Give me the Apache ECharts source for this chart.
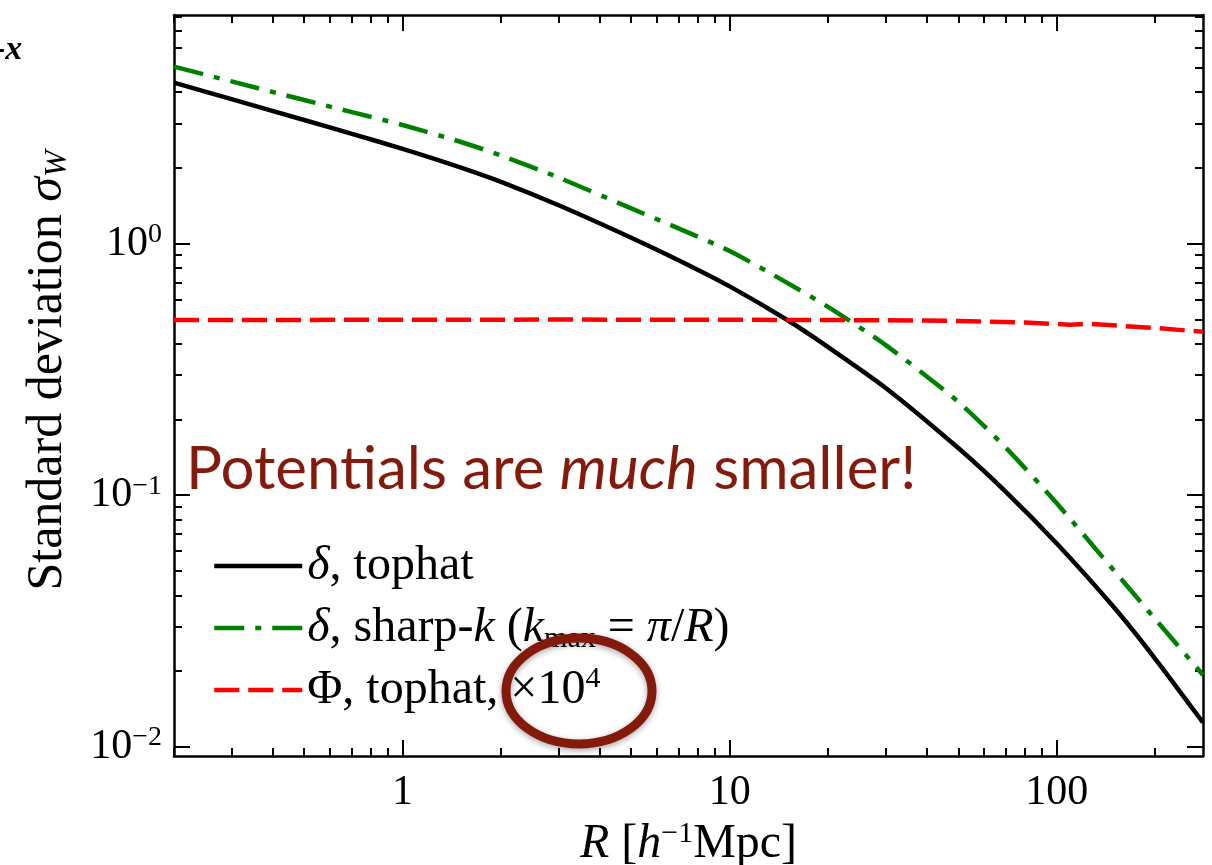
<!DOCTYPE html>
<html>
<head>
<meta charset="utf-8">
<script src="https://cdn.jsdelivr.net/npm/echarts@6/dist/echarts.min.js"></script>
<style>
  html, body { margin: 0; padding: 0; background: #fff; }
  #main { width: 1212px; height: 865px; }
</style>
</head>
<body>
<div id="main"></div>
<script>
// smoothing radius R [h^-1 Mpc] and sigma_W
var rGrid       = [0.2, 0.3, 0.5, 0.7, 1, 1.5, 2, 3, 5, 7, 10, 15, 20, 30, 50, 70, 100, 150, 200, 280];
var sigTophat   = [4.36, 3.75, 3.10, 2.73, 2.38, 2.01, 1.76, 1.42, 1.055, 0.857, 0.676, 0.497, 0.388, 0.267, 0.154, 0.103, 0.0643, 0.0357, 0.0224, 0.0125];
var sigSharpK   = [5.05, 4.41, 3.72, 3.33, 2.96, 2.54, 2.24, 1.83, 1.38, 1.147, 0.934, 0.698, 0.56, 0.395, 0.235, 0.154, 0.0929, 0.050, 0.0322, 0.0193];
var rPhi        = [0.2, 1, 3, 10, 30, 50, 80, 110, 125, 200, 280];
var sigPhi      = [0.497, 0.498, 0.499, 0.498, 0.496, 0.493, 0.486, 0.476, 0.48, 0.462, 0.446];

var xMajor = [1, 10, 100];
var xMinor = [0.2, 0.3, 0.4, 0.5, 0.6, 0.7, 0.8, 0.9, 2, 3, 4, 5, 6, 7, 8, 9, 20, 30, 40, 50, 60, 70, 80, 90, 200];
var yMajor = [0.01, 0.1, 1];
var yMinor = [0.02, 0.03, 0.04, 0.05, 0.06, 0.07, 0.08, 0.09, 0.2, 0.3, 0.4, 0.5, 0.6, 0.7, 0.8, 0.9, 2, 3, 4, 5, 6, 7, 8];

var X_MIN = 0.2, X_MAX = 280, Y_MIN = 0.0092, Y_MAX = 8.1;
var SERIF = '"Liberation Serif", "DejaVu Serif", serif';
var lg = Math.log10;

var zip = function(xs, ys) {
  return xs.map(function(x, i) { return [x, ys[i]]; });
};

// tick-only helper axis, laid out in log10 space over the same range
var tickAxis = function(isX, pos, vals, len, showLine) {
  return {
    type: 'value',
    position: pos,
    min: lg(isX ? X_MIN : Y_MIN),
    max: lg(isX ? X_MAX : Y_MAX),
    silent: true,
    axisLine: { show: showLine, onZero: false, lineStyle: { color: '#000', width: 2.5 } },
    axisTick: {
      show: true, inside: true, length: len,
      customValues: vals.map(lg),
      lineStyle: { color: '#000', width: 2 }
    },
    axisLabel: { show: false },
    splitLine: { show: false }
  };
};

var powLabel = function(v) {
  var e = lg(v), r = Math.round(e);
  if (Math.abs(e - r) > 1e-6) return '';
  return '{b|10}{s|' + (r < 0 ? '\u2212' + (-r) : r) + '}';
};

var legendText = {
  tophat: '{i|\u03b4}, tophat',
  sharpk: '{i|\u03b4}, sharp-{i|k} ({i|k}{sub|max} = {i|\u03c0}/{i|R})',
  phi: '\u03a6, tophat, \u00d710{sup|4}'
};

var chart = echarts.init(document.getElementById('main'));
chart.setOption({
  animation: false,
  backgroundColor: '#fff',
  grid: { left: 174, right: 9, top: 15, bottom: 109, containLabel: false, outerBoundsMode: 'none' },
  xAxis: [
    {
      type: 'log', position: 'bottom', min: X_MIN, max: X_MAX,
      axisLine: { show: true, onZero: false, lineStyle: { color: '#000', width: 2.5 } },
      axisTick: { show: false },
      splitLine: { show: false },
      axisLabel: {
        margin: 16, color: '#000', fontFamily: SERIF, fontSize: 42,
        showMinLabel: false, showMaxLabel: false,
        formatter: function(v) {
          var e = lg(v);
          return Math.abs(e - Math.round(e)) < 1e-6 ? String(Math.round(v)) : '';
        }
      },
      name: '{i|R} [{i|h}{s|\u22121}Mpc]',
      nameLocation: 'middle', nameGap: 60,
      nameTextStyle: {
        color: '#000', fontFamily: SERIF, fontSize: 48, lineHeight: 50,
        rich: {
          i: { fontFamily: SERIF, fontSize: 48, fontStyle: 'italic', lineHeight: 50, color: '#000' },
          s: { fontFamily: SERIF, fontSize: 30, lineHeight: 30, verticalAlign: 'top', color: '#000' }
        }
      }
    },
    tickAxis(true, 'bottom', xMajor, 16, false),
    tickAxis(true, 'bottom', xMinor, 8, false),
    tickAxis(true, 'top', xMajor, 16, true),
    tickAxis(true, 'top', xMinor, 8, false)
  ],
  yAxis: [
    {
      type: 'log', position: 'left', min: Y_MIN, max: Y_MAX,
      axisLine: { show: true, onZero: false, lineStyle: { color: '#000', width: 2.5 } },
      axisTick: { show: false },
      splitLine: { show: false },
      axisLabel: {
        margin: 12, color: '#000', fontFamily: SERIF, fontSize: 42,
        showMinLabel: false, showMaxLabel: false,
        formatter: powLabel,
        rich: {
          b: { fontFamily: SERIF, fontSize: 42, lineHeight: 46, color: '#000' },
          s: { fontFamily: SERIF, fontSize: 28, lineHeight: 28, verticalAlign: 'top', color: '#000' }
        }
      },
      name: 'Standard deviation {i|\u03c3}{sub|W}',
      nameLocation: 'middle', nameGap: 100, nameRotate: 90,
      nameTextStyle: {
        color: '#000', fontFamily: SERIF, fontSize: 50, lineHeight: 52,
        padding: [0, 0, 0, 30],
        rich: {
          i: { fontFamily: SERIF, fontSize: 50, fontStyle: 'italic', lineHeight: 52, color: '#000' },
          sub: { fontFamily: SERIF, fontSize: 32, fontStyle: 'italic', lineHeight: 32, verticalAlign: 'bottom', color: '#000' }
        }
      }
    },
    tickAxis(false, 'left', yMajor, 16, false),
    tickAxis(false, 'left', yMinor, 8, false),
    tickAxis(false, 'right', yMajor, 16, true),
    tickAxis(false, 'right', yMinor, 8, false)
  ],
  legend: {
    orient: 'vertical', left: 212, top: 540, padding: 0,
    itemGap: 10, itemWidth: 88, itemHeight: 16,
    selectedMode: false,
    data: ['tophat', 'sharpk', 'phi'],
    lineStyle: { width: 4.5 },
    itemStyle: { color: 'rgba(0,0,0,0)', borderWidth: 0, opacity: 0 },
    formatter: function(n) { return legendText[n]; },
    textStyle: {
      color: '#000', fontFamily: SERIF, fontSize: 48, lineHeight: 52,
      rich: {
        i: { fontFamily: SERIF, fontSize: 48, fontStyle: 'italic', lineHeight: 52, color: '#000' },
        sub: { fontFamily: SERIF, fontSize: 30, lineHeight: 30, verticalAlign: 'bottom', color: '#000' },
        sup: { fontFamily: SERIF, fontSize: 30, lineHeight: 30, verticalAlign: 'top', color: '#000' }
      }
    }
  },
  series: [
    {
      name: 'tophat', type: 'line', xAxisIndex: 0, yAxisIndex: 0,
      data: zip(rGrid, sigTophat), smooth: 0.25, symbol: 'none',
      lineStyle: { color: '#000', width: 4.5 }, itemStyle: { color: '#000' }, z: 3
    },
    {
      name: 'sharpk', type: 'line', xAxisIndex: 0, yAxisIndex: 0,
      data: zip(rGrid, sigSharpK), smooth: 0.25, symbol: 'none',
      lineStyle: { color: '#008000', width: 4.5, type: [30, 11, 6, 11] }, itemStyle: { color: '#008000' }, z: 3
    },
    {
      name: 'phi', type: 'line', xAxisIndex: 0, yAxisIndex: 0,
      data: zip(rPhi, sigPhi), symbol: 'none',
      lineStyle: { color: '#ff0000', width: 4.5, type: [25, 9] }, itemStyle: { color: '#ff0000' }, z: 3
    }
  ],
  graphic: [
    {
      type: 'text', x: 186, y: 470, z: 10,
      style: {
        text: 'Potentials are {it|much} smaller!',
        fontFamily: 'Lato', fontSize: 60, fill: '#841a0c',
        verticalAlign: 'middle',
        rich: { it: { fontFamily: 'Lato', fontSize: 60, fontStyle: 'italic', fill: '#841a0c' } }
      }
    },
    {
      type: 'text', x: -6, y: 50, z: 10,
      style: { text: '-x', font: 'italic bold 34px "Liberation Serif"', fill: '#000', verticalAlign: 'middle' }
    },
    {
      type: 'ellipse', z: 20,
      shape: { cx: 579, cy: 691, rx: 73, ry: 53 },
      style: {
        fill: 'none', stroke: '#841a0c', lineWidth: 9,
        shadowBlur: 6, shadowColor: 'rgba(0,0,0,0.35)', shadowOffsetY: 2
      }
    }
  ]
});
</script>
</body>
</html>
